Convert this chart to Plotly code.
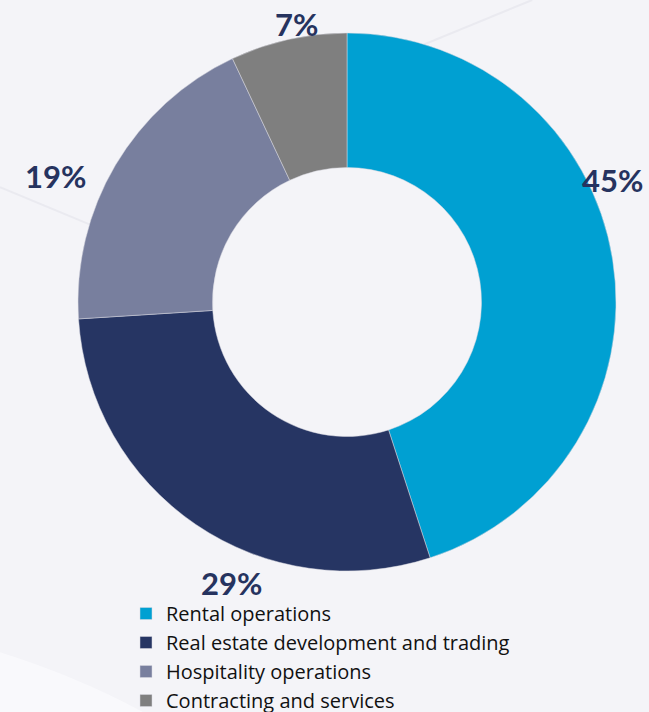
import plotly.graph_objects as go

segments = ['Rental operations', 'Real estate development and trading',
            'Hospitality operations', 'Contracting and services']
shares = [45, 29, 19, 7]
colors = ['#00A0D2', '#263563', '#787F9E', '#7F7F7F']

# figure is a little taller than the window so the legend's bottom padding
# falls below the visible area
W, H = 649, 720
# label anchor points in pixels (x, y from top)
label_pos = [(612, 180), (232, 583), (55, 176), (296, 24)]

fig = go.Figure()
fig.add_trace(go.Pie(
    labels=segments,
    values=shares,
    hole=0.5,
    sort=False,
    direction='clockwise',
    rotation=0,
    marker={'colors': colors, 'line': {'color': '#D9D9E0', 'width': 0.5}},
    textinfo='none',
    hoverinfo='label+percent',
    domain={'x': [78 / W, 616 / W], 'y': [1 - 571 / H, 1 - 33 / H]},
))

annotations = []
for v, (px, py) in zip(shares, label_pos):
    annotations.append({
        'text': f'<b>{v}%</b>',
        'x': px / W, 'y': 1 - py / H,
        'xref': 'paper', 'yref': 'paper',
        'xanchor': 'center', 'yanchor': 'middle',
        'showarrow': False,
        'font': {'family': 'Lato', 'size': 31, 'color': '#26335F'},
    })

fig.update_layout(
    width=W, height=H,
    margin={'l': 0, 'r': 0, 't': 0, 'b': 0},
    paper_bgcolor='#F4F4F8',
    plot_bgcolor='#F4F4F8',
    annotations=annotations,
    shapes=[
        {'type': 'path', 'xref': 'paper', 'yref': 'paper',
         'path': 'M 0 0.094 Q 0.12 0.06 0.22 0.011 L 0.22 0 L 0 0 Z',
         'fillcolor': '#F9F9FC', 'line': {'width': 0}, 'layer': 'below'},
        {'type': 'line', 'xref': 'paper', 'yref': 'paper',
         'x0': 0.55, 'y0': 0.90, 'x1': 0.82, 'y1': 1.0,
         'line': {'color': '#EAEAF0', 'width': 2}, 'layer': 'below'},
        {'type': 'line', 'xref': 'paper', 'yref': 'paper',
         'x0': 0.0, 'y0': 0.74, 'x1': 0.2, 'y1': 0.665,
         'line': {'color': '#EAEAF0', 'width': 2}, 'layer': 'below'},
    ],
    showlegend=True,
    legend={
        'x': 126 / W, 'y': 0,
        'xanchor': 'left', 'yanchor': 'bottom',
        'bgcolor': 'rgba(0,0,0,0)',
        'font': {'family': 'Open Sans', 'size': 20, 'color': '#111111'},
        'tracegroupgap': 0,
    },
)

fig.write_html('out.html', config={'displayModeBar': False},
               post_script="document.body.style.margin='0';"
                           "document.body.style.overflow='hidden';")
